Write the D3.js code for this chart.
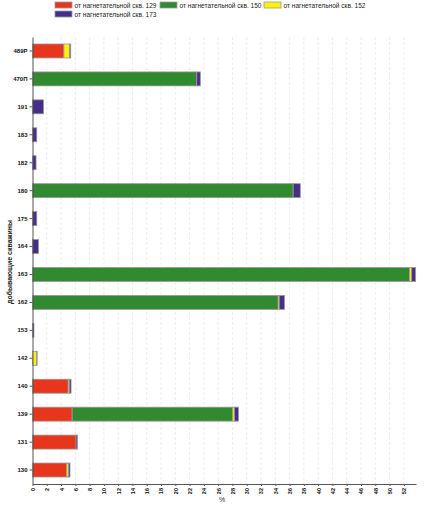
<!DOCTYPE html>
<html>
<head>
<meta charset="utf-8">
<script src="https://cdn.jsdelivr.net/npm/d3@7"></script>
<style>
  body { margin: 0; background: #fff; }
  svg { display: block; font-family: "Liberation Sans", Arial, sans-serif; }
</style>
</head>
<body>
<svg id="chart" width="425" height="507"></svg>
<script>
// wells (top to bottom)
const wells = ["489Р", "470П", "191", "183", "182", "180", "175", "164", "163", "162", "153", "142", "140", "139", "131", "130"];
const seriesNames = ["от нагнетательной скв. 129", "от нагнетательной скв. 150", "от нагнетательной скв. 152", "от нагнетательной скв. 173"];
const s129 = [4.4, 0, 0, 0, 0, 0, 0, 0, 0, 0, 0, 0, 5.0, 5.55, 6.1, 4.8];
const s150 = [0, 23.0, 0, 0, 0, 36.5, 0, 0, 52.8, 34.4, 0, 0, 0, 22.5, 0, 0];
const s152 = [0.8, 0, 0, 0, 0, 0, 0, 0, 0.3, 0.15, 0, 0.55, 0.15, 0.25, 0, 0.25];
const s173 = [0.15, 0.5, 1.55, 0.6, 0.5, 1.0, 0.6, 0.85, 0.55, 0.75, 0.2, 0.1, 0.25, 0.55, 0.2, 0.2];
const xTicks = d3.range(0, 53, 2);
const colors = ["#e8361c", "#318a2f", "#fff200", "#472c8a"];

const svg = d3.select("#chart");
const plotL = 32.5, plotR = 416, plotT = 37, plotB = 484;

const x = d3.scaleLinear().domain([0, 53.7]).range([plotL, plotR]);
const y = d3.scaleBand().domain(wells).range([plotT, plotB]).paddingInner(0.5).paddingOuter(0.25);

// grid
svg.append("g").selectAll("line").data(xTicks.slice(1)).join("line")
  .attr("x1", d => x(d)).attr("x2", d => x(d))
  .attr("y1", plotT).attr("y2", plotB)
  .attr("stroke", "#e8e8e8").attr("stroke-dasharray", "3,2").attr("stroke-width", 0.8);

// stacked bars
const rows = wells.map((w, i) => ({ well: w, a: s129[i], b: s150[i], c: s152[i], d: s173[i] }));
const stack = d3.stack().keys(["a", "b", "c", "d"])(rows);

svg.append("g").selectAll("g").data(stack).join("g")
  .attr("fill", (d, i) => colors[i])
  .selectAll("rect").data(d => d.filter(p => p[1] - p[0] > 0)).join("rect")
  .attr("x", d => x(d[0]))
  .attr("y", d => y(d.data.well))
  .attr("width", d => x(d[1]) - x(d[0]))
  .attr("height", y.bandwidth())
  .attr("stroke", "#9a9a9a").attr("stroke-width", 0.8);

// y axis
const yAxis = svg.append("g").attr("transform", `translate(${plotL},0)`)
  .call(d3.axisLeft(y).tickSize(3).tickPadding(2).tickSizeOuter(0));
yAxis.select(".domain").attr("stroke", "#555");
yAxis.selectAll(".tick line").attr("stroke", "#555");
yAxis.selectAll("text").attr("font-size", 6).attr("font-weight", "bold").attr("fill", "#111");

// x axis
const xAxis = svg.append("g").attr("transform", `translate(0,${plotB})`)
  .call(d3.axisBottom(x).tickValues(xTicks).tickSize(2).tickSizeOuter(0));
xAxis.select(".domain").attr("stroke", "#555");
xAxis.selectAll(".tick line").attr("stroke", "#555");
xAxis.selectAll("text")
  .attr("font-size", 5.5).attr("font-weight", "bold").attr("fill", "#111")
  .attr("text-anchor", "end").attr("dy", "0.35em")
  .attr("transform", "translate(0,2) rotate(-90)")
  .attr("x", -2).attr("y", 0);

// axis titles
svg.append("text").attr("x", 222).attr("y", 502).attr("text-anchor", "middle")
  .attr("font-size", 7).attr("fill", "#333").text("%");
svg.append("text").attr("transform", "translate(12,262) rotate(-90)")
  .attr("text-anchor", "middle").attr("font-size", 7).attr("font-weight", "bold").attr("fill", "#222")
  .text("добывающие скважины");

// legend
const legendPos = [[55, 2], [160, 2], [264, 2], [55, 11]];
const lg = svg.append("g").selectAll("g").data(seriesNames).join("g")
  .attr("transform", (d, i) => `translate(${legendPos[i][0]},${legendPos[i][1]})`);
lg.append("rect").attr("width", 17).attr("height", 6)
  .attr("fill", (d, i) => colors[i]).attr("stroke", "#9a9a9a").attr("stroke-width", 0.8);
lg.append("text").attr("x", 19.5).attr("y", 5.5).attr("font-size", 6.5).attr("fill", "#222")
  .attr("textLength", 82).attr("lengthAdjust", "spacingAndGlyphs").text(d => d);
</script>
</body>
</html>
